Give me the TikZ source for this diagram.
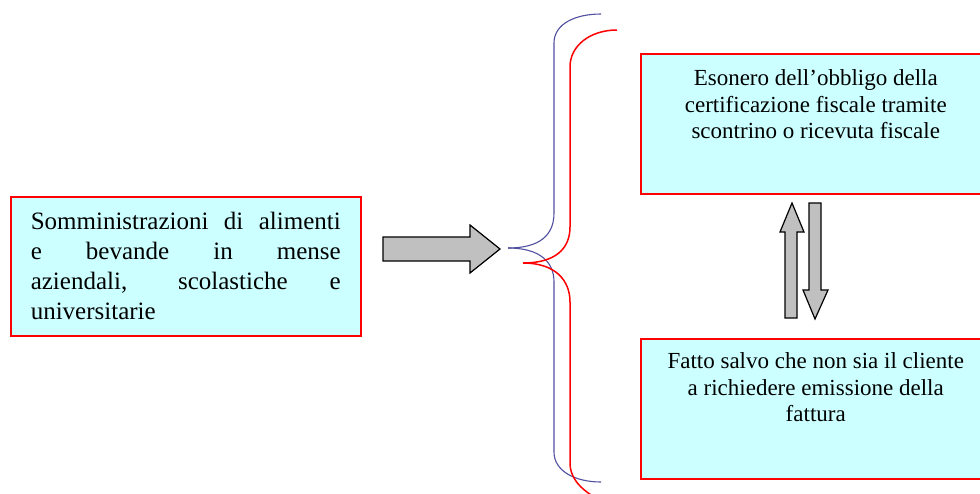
\documentclass[tikz,border=0pt]{standalone}
\usepackage{fontspec}
\setmainfont{Liberation Serif}
\usetikzlibrary{positioning}
\definecolor{boxfill}{HTML}{CCFFFF}
\definecolor{bracenavy}{RGB}{80,80,160}
\definecolor{arrowgray}{HTML}{C0C0C0}

\begin{document}
\begin{tikzpicture}[
        x=1pt, y=-1pt,
        box/.style={draw=red, line width=1.5pt, fill=boxfill, inner xsep=0pt, inner ysep=0pt, anchor=north west},
        fatarrow/.style={draw=black, line width=1.2pt, fill=arrowgray, line join=miter},
        bluebrace/.style={draw=bracenavy, line width=1.1pt},
        redbrace/.style={draw=red, line width=1.5pt}
    ]
        \useasboundingbox (0,0) rectangle (980,493);

        % boxes
        \node[box, inner xsep=20pt] (mense) at (10,196) {\parbox[t][139pt][t]{310pt}{%
            \vspace*{15pt}\fontsize{25}{30}\selectfont
            \makebox[310pt][s]{Somministrazioni di alimenti}\\
            \makebox[310pt][s]{e bevande in mense}\\
            \makebox[310pt][s]{aziendali, scolastiche e}\\
            universitarie}};
        \node[box] (esonero) at (640,53) {\parbox[t][140pt][t]{350pt}{%
            \vspace*{16pt}\centering\fontsize{23}{26.5}\selectfont
            Esonero dell’obbligo della\\
            certificazione fiscale tramite\\
            scontrino o ricevuta fiscale}};
        \node[box] (fattura) at (640,338) {\parbox[t][140pt][t]{350pt}{%
            \vspace*{14pt}\centering\fontsize{23}{26.5}\selectfont
            Fatto salvo che non sia il cliente\\
            a richiedere emissione della\\
            fattura}};

        % arrows
        \draw[fatarrow] (383,237) -- (470,237) -- (470,225) -- (500,249) -- (470,273) -- (470,261) -- (383,261) -- cycle;
        \draw[fatarrow] (785,318) -- (785,232) -- (780,232) -- (792,203) -- (804,232) -- (797,232) -- (797,318) -- cycle;
        \draw[fatarrow] (809,203) -- (821,203) -- (821,290) -- (828,290) -- (815,319) -- (803,290) -- (809,290) -- cycle;

        % braces
        \coordinate (bluetip) at (508,248);
        \coordinate (redtip) at (523,263);
        \draw[bluebrace] (bluetip) .. controls (540,248) and (554,235) .. (554,213) -- (554,43)
            .. controls (554,24) and (575,14) .. (601,14);
        \draw[bluebrace] (bluetip) .. controls (540,248) and (554,262) .. (554,282) -- (554,452)
            .. controls (554,471) and (575,482) .. (601,482);
        \draw[redbrace] (redtip) .. controls (555,263) and (570,249) .. (570,227) -- (570,67)
            .. controls (570,45) and (591,30) .. (617,30);
        \draw[redbrace] (redtip) .. controls (555,263) and (570,280) .. (570,302) -- (570,463)
            .. controls (570,480) and (584,492) .. (600,500);
    \end{tikzpicture}
\end{document}
